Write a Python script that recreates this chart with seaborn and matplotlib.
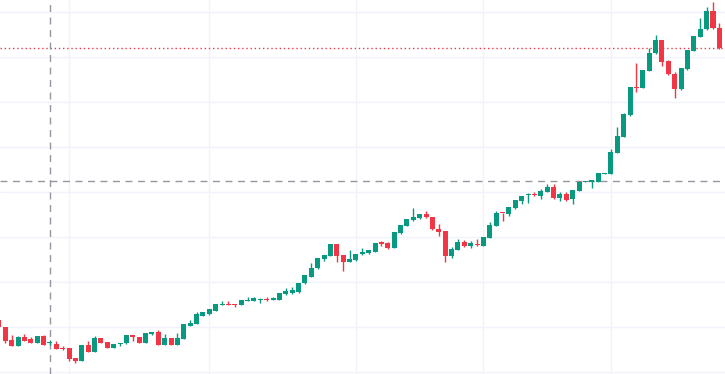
import numpy as np
import pandas as pd
import seaborn as sns
import matplotlib
matplotlib.use("Agg")
import matplotlib.pyplot as plt

# candle values (price units = pixels above the bottom grid line)
opens = [52, 45, 32, 26.3, 35.3, 32.7, 29.3, 36, 28.7, 28, 24, 24.3, 14, 11.3, 27, 20.3, 34.3, 30.3, 24.3, 27.7,
         28.7, 37, 35.3, 29.3, 37.7, 40.3, 27, 34.3, 27, 33.3, 46.3, 48.3, 56.3, 57.7, 61.3, 67.5, 68, 68, 67.3, 71.3,
         71.3, 72, 73, 72.3, 72.3, 78, 78.7, 80, 88.7, 95.3, 103.7, 113, 116.3, 128, 117, 110.3, 112, 117.7, 118.7, 120.3,
         129.7, 128.7, 124.3, 138.7, 146.3, 152, 153.7, 158, 154.7, 143, 141, 116, 122.5, 130, 126, 127.3, 126.3, 134.3, 146.3, 159.3,
         158, 164.3, 171, 176.7, 178, 176.3, 180.3, 185.3, 173.7, 178, 172.7, 181.5, 190, 190.5, 190.5, 198.3, 198.3, 219.3, 235.3, 257,
         285.3, 284.3, 301.3, 318.7, 332, 311.3, 298, 283, 303, 321.3, 335.3, 342.7, 361, 343.7]
highs = [53, 45, 37, 36, 38, 35.3, 36.5, 37, 32, 31.3, 26, 24.5, 14, 27, 31, 36, 34.5, 30.5, 28, 29.5,
         37.5, 37.5, 35.5, 39, 40.5, 42, 38, 34.5, 39, 48, 52, 60.3, 60, 63, 68.5, 71.3, 71, 68.5, 72.5, 75,
         75.3, 74.3, 75.3, 75.3, 79, 83.7, 85.3, 89.5, 97.5, 109.3, 114.5, 117.5, 128.5, 128.5, 117.5, 122, 118.5, 123.7, 122.5, 129,
         131.3, 130.3, 140, 147.5, 153.5, 163.7, 158.5, 161.3, 155, 147.7, 141.3, 125.3, 133.5, 132.5, 131.3, 133, 135, 150.3, 161.3, 159.5,
         165, 172.5, 176.5, 178.7, 180.3, 183, 188, 187.7, 180.3, 179.7, 182.5, 191.3, 190.7, 192.3, 199.3, 199, 223, 245.3, 259.3, 285.5,
         309.3, 302.5, 323.7, 337, 332.5, 312, 300.3, 304, 322.5, 336.5, 353.7, 365.3, 370.3, 349.3]
lows = [44, 29, 26, 26, 31, 29, 29, 27, 27.3, 23, 22, 11.3, 9.3, 11, 20, 20, 29, 24, 24, 26,
        28.5, 31.3, 29, 29, 37.5, 27, 27, 27, 27, 33, 46, 48, 56, 57.5, 61, 67, 67, 64.7, 67, 71,
        71, 69.3, 70.7, 72, 72, 77.5, 78.5, 79.5, 88.5, 95, 103.5, 111.3, 116, 110.3, 101.5, 110, 111.5, 117.5, 118.5, 120,
        126.3, 123, 124, 138.5, 146, 151.5, 153.5, 154.5, 142.5, 136.5, 109.7, 114.5, 122, 125.5, 123.7, 126.5, 126, 134, 146, 151.3,
        156.3, 162.7, 167.7, 168.7, 176, 172.7, 180, 173.5, 171.3, 171.5, 168, 181, 190, 183.7, 190, 198, 198, 219, 235, 256.5,
        280.3, 284, 301, 318.5, 306.3, 297.5, 274.3, 282.5, 302.5, 321, 335, 342.5, 343.5, 323.5]
closes = [45, 31, 26.3, 34.7, 31.3, 29.3, 36, 27.3, 29.3, 23.3, 23.3, 13, 10.7, 27, 20.3, 34.3, 29.3, 24.5, 28, 29.3,
          37, 34.7, 29.3, 38.7, 40.3, 27, 34.3, 27, 34.3, 47.7, 49.3, 57.7, 59.7, 62.7, 68, 68, 67.3, 66.7, 72, 72,
          73.7, 73, 72.3, 73.7, 78.7, 81, 82, 89.3, 97, 104.3, 114.3, 117, 128, 116.3, 110.3, 113.3, 118, 119.7, 122, 128.7,
          127.7, 124.3, 139.7, 147, 153, 154.7, 158, 154.7, 142.7, 140.3, 116.5, 122.7, 130, 125.7, 128.7, 126.7, 134.7, 147, 158.7, 158.7,
          164.7, 172, 176, 177.7, 177.3, 181, 184.7, 173.7, 178, 172, 182, 190.3, 190.5, 192, 199, 198.8, 220.3, 236, 258, 285.3,
          284, 302, 318.7, 332, 310.3, 297.7, 283, 303.7, 322, 336, 342.7, 361, 343.7, 323.7]

month_lines = [11, 33, 56, 76, 96]
cross_idx = 8
cross_price = 191

GREEN = "#089981"
RED = "#F23645"

df = pd.DataFrame({"open": opens, "high": highs, "low": lows, "close": closes})
df["idx"] = np.arange(len(df))
df["up"] = df["close"] >= df["open"]
df["bottom"] = df[["open", "close"]].min(axis=1)
df["height"] = (df["close"] - df["open"]).abs().clip(lower=1)
df["color"] = np.where(df["up"], GREEN, RED)

sns.set_style("white", {"axes.grid": True, "grid.color": "#F0F3FA"})

fig = plt.figure(figsize=(7.25, 3.74), dpi=100)
ax = fig.add_axes([0, 0, 1, 1])

ax.vlines(df["idx"], df["low"], df["high"], colors=df["color"], linewidth=1, zorder=3)
ax.bar(df["idx"], df["height"], bottom=df["bottom"], width=0.8, color=df["color"],
       edgecolor=df["color"], linewidth=0, zorder=4)

ax.set_xticks(month_lines)
ax.set_yticks(np.arange(0, 372, 45))
ax.grid(True, color="#F0F3FA", linewidth=1, zorder=0)
ax.tick_params(left=False, bottom=False, labelleft=False, labelbottom=False)
for s in ax.spines.values():
    s.set_visible(False)

# last price line and crosshair
ax.axhline(df["close"].iloc[-1], color=RED, linestyle=(0, (1, 2)), linewidth=1, zorder=2)
ax.axhline(cross_price, color="#9598A1", linestyle=(0, (5, 4)), linewidth=1, zorder=2)
ax.axvline(cross_idx, color="#9598A1", linestyle=(0, (5, 4)), linewidth=1, zorder=2)

ax.set_xlim(0.168, 113.89)
ax.set_ylim(-2, 372)

fig.savefig("out.png", dpi=100)
